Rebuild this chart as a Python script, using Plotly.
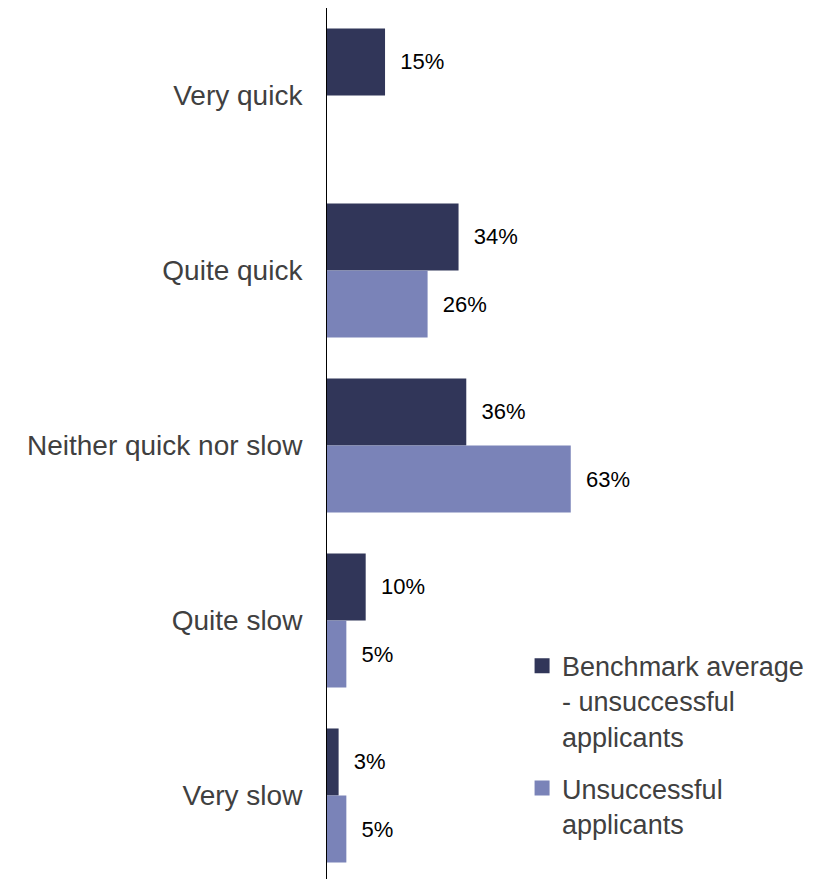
import plotly.graph_objects as go

categories = ["Very quick", "Quite quick", "Neither quick nor slow", "Quite slow", "Very slow"]
benchmark = [15, 34, 36, 10, 3]
unsuccessful = [None, 26, 63, 5, 5]
series_names = ["Benchmark average<br>- unsuccessful<br>applicants", "Unsuccessful<br>applicants"]
colors = ["#313659", "#7A83B8"]

fig = go.Figure()
for name, vals, col, grp in [(series_names[0], benchmark, colors[0], "a"),
                             (series_names[1], unsuccessful, colors[1], "b")]:
    fig.add_trace(go.Bar(
        y=categories, x=vals, orientation="h", name=name, legendgroup=grp,
        showlegend=False,
        marker=dict(color=col, line=dict(width=0)),
        texttemplate="  %{x}%", textposition="outside", cliponaxis=False,
        textfont=dict(size=22, color="#000000", family="Liberation Sans, Arial"),
    ))
# legend entries with larger square swatches
for name, col, grp in [(series_names[0], colors[0], "a"), (series_names[1], colors[1], "b")]:
    fig.add_trace(go.Scatter(
        x=[None], y=[None], mode="markers", name=name, legendgroup=grp,
        marker=dict(symbol="square", size=15, color=col, line=dict(width=0)),
        showlegend=True,
    ))

fig.update_layout(
    width=827, height=879,
    margin=dict(l=319, r=0, t=0, b=4),
    barmode="group", bargap=0.234, bargroupgap=0,
    plot_bgcolor="white", paper_bgcolor="white",
    font=dict(family="Liberation Sans, Arial", size=28, color="#404040"),
    xaxis=dict(range=[0, 131.3], visible=False, showgrid=False, zeroline=False),
    yaxis=dict(autorange="reversed", showline=True, linecolor="#000000", linewidth=1,
               showgrid=False, ticks="", ticklabelstandoff=18,
               tickfont=dict(size=28, color="#404040")),
    legend=dict(x=0.384, y=0.2757, xanchor="left", yanchor="top", valign="top",
                font=dict(size=27, color="#404040"), tracegroupgap=14,
                bgcolor="rgba(0,0,0,0)"),
    showlegend=True,
)
fig.write_html("out.html")
